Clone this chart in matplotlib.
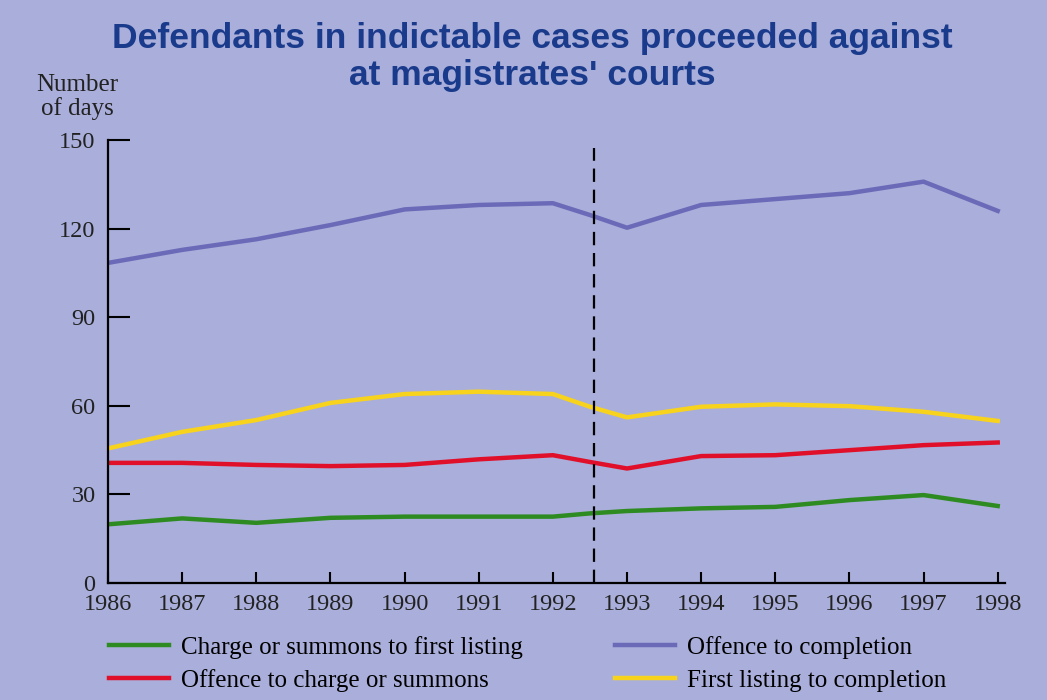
import matplotlib.pyplot as plt

# Data (days)
anni = [1986, 1987, 1988, 1989, 1990, 1991, 1992, 1992.5, 1993, 1994, 1995, 1996, 1997, 1998]
carica_prima = [19.9, 21.9, 20.4, 22.1, 22.5, 22.5, 22.5, 23.6, 24.4, 25.3, 25.8, 28.1, 29.8, 26.1]
reato_carica = [40.7, 40.7, 40.0, 39.6, 40.0, 41.9, 43.3, 41.0, 38.8, 43.0, 43.3, 45.0, 46.7, 47.6]
reato_fine = [108.4, 112.8, 116.4, 121.2, 126.5, 128.0, 128.6, 124.6, 120.3, 128.0, 130.0, 132.0, 135.9, 126.0]
prima_fine = [45.6, 51.2, 55.2, 61.0, 64.0, 64.8, 64.0, 59.7, 56.1, 59.7, 60.5, 59.9, 58.0, 54.9]
etichette = ['Charge or summons to first listing', 'Offence to charge or summons',
             'Offence to completion', 'First listing to completion']
anni_tick = list(range(1986, 1999))
valori_tick = [0, 30, 60, 90, 120, 150]

sfondo = '#A9AEDA'
serif = 'Liberation Serif'

fig = plt.figure(figsize=(10.47, 7), dpi=100, facecolor=sfondo)
ax = fig.add_axes([0.1032, 0.167, 0.8568, 0.633], facecolor=sfondo)

ax.plot(anni, carica_prima, color='#2E8B22', lw=3.2, label=etichette[0])
ax.plot(anni, reato_carica, color='#E0102A', lw=3.2, label=etichette[1])
ax.plot(anni, reato_fine, color='#6A6AB8', lw=3.2, label=etichette[2])
ax.plot(anni, prima_fine, color='#F8D31E', lw=3.2, label=etichette[3])

# Linea tratteggiata di separazione
ax.vlines(1992.55, 0, 147.3, colors='black', linestyles=(0, (6, 3.5)), lw=1.6)

ax.set_xlim(1986, 1998.1)
ax.set_ylim(0, 150)
ax.set_xticks(anni_tick)
ax.set_yticks(valori_tick)
ax.spines['top'].set_visible(False)
ax.spines['right'].set_visible(False)
ax.spines['left'].set_linewidth(1.6)
ax.spines['bottom'].set_linewidth(1.6)
ax.tick_params(axis='y', direction='in', length=16, width=1.5, pad=9)
ax.tick_params(axis='x', direction='in', length=8, width=1.5, pad=8)
for lab in ax.get_xticklabels() + ax.get_yticklabels():
    lab.set_fontfamily(serif)
    lab.set_fontsize(17.5)
    lab.set_color('#222222')

fig.text(0.074, 0.862, 'Number\nof days', ha='center', va='center', fontfamily=serif,
         fontsize=18, color='#222222', linespacing=1.05)

fig.text(0.508, 0.918, "Defendants in indictable cases proceeded against\nat magistrates' courts",
         ha='center', va='center', fontfamily='Liberation Sans', fontweight='bold',
         fontsize=25.5, color='#1A3A8C', linespacing=1.15)

fig.legend(loc='upper left', bbox_to_anchor=(0.104, 0.092), ncol=2, frameon=False,
           prop={'family': serif, 'size': 18}, handlelength=2.4, handletextpad=0.5,
           columnspacing=3.65, labelspacing=0.42, borderaxespad=0, borderpad=0)

plt.savefig('out.png', dpi=100, facecolor=sfondo)
